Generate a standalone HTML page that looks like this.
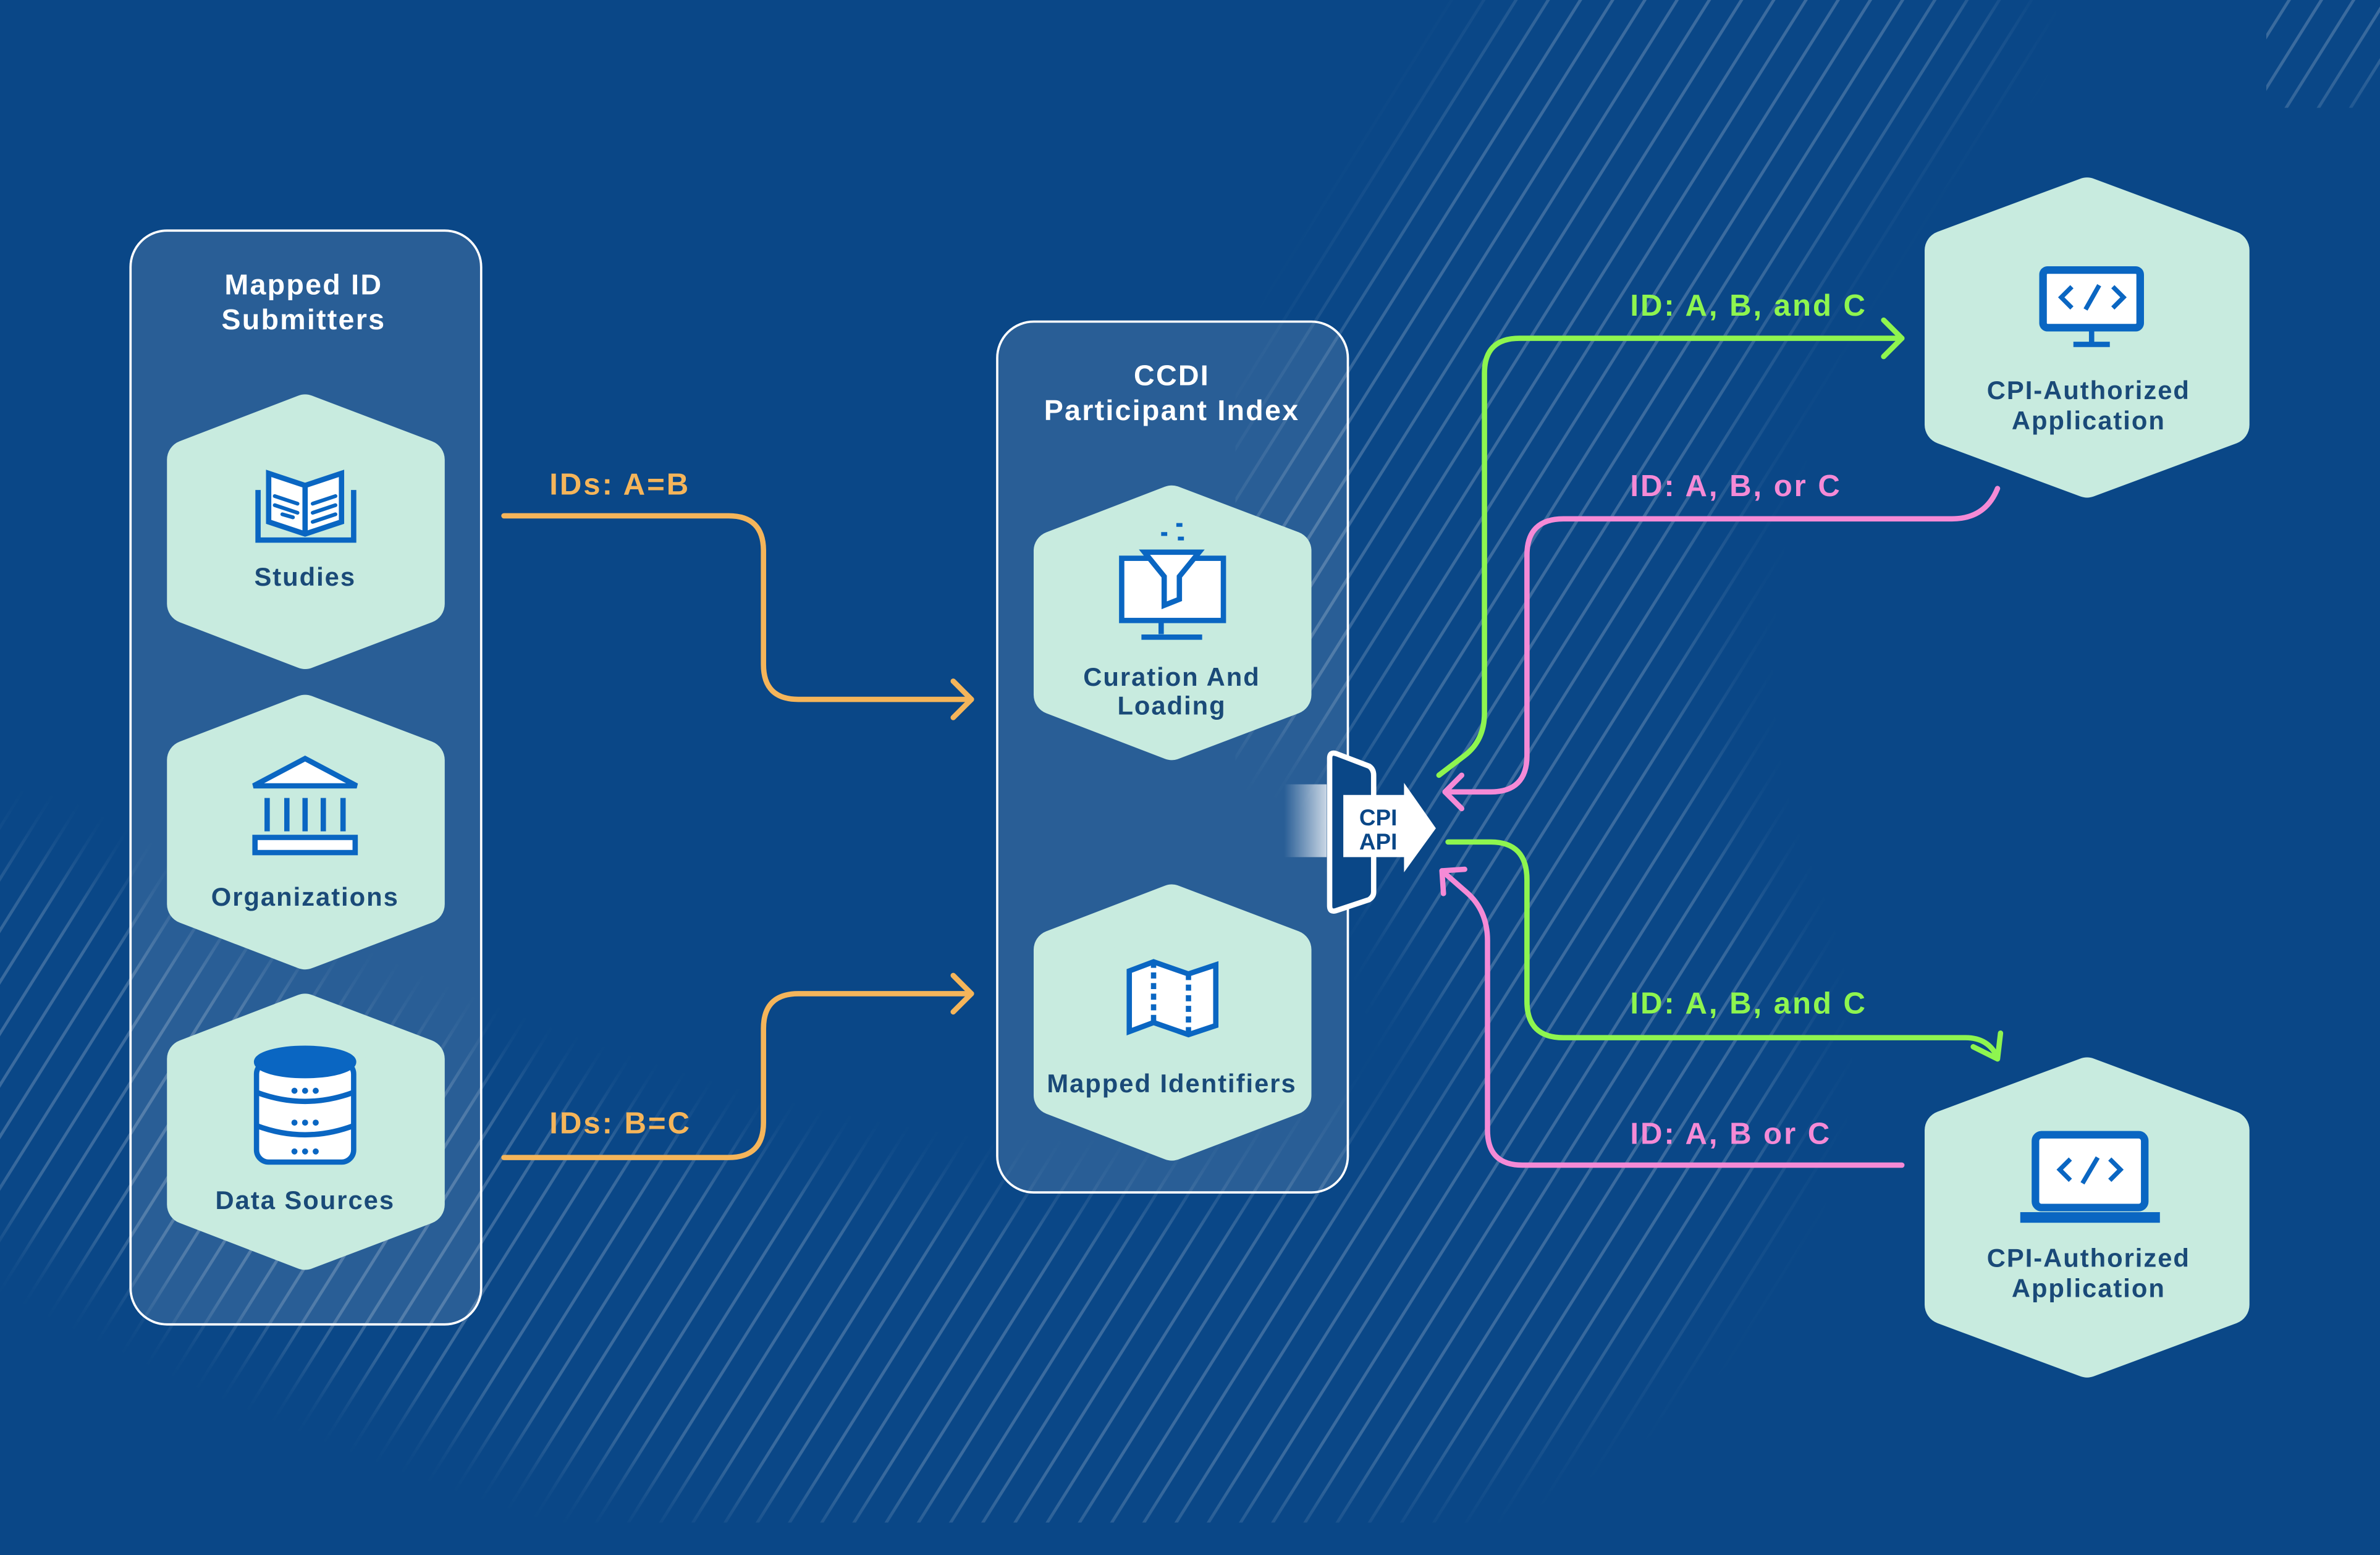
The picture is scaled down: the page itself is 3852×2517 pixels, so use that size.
<!DOCTYPE html>
<html><head><meta charset="utf-8"><style>
html,body{margin:0;padding:0;background:#0a4787;}
svg{display:block;width:3852px;height:2517px;}
text{font-family:"Liberation Sans",sans-serif;font-weight:bold;}
</style></head><body>
<svg viewBox="0 0 1568 1025" preserveAspectRatio="none" xmlns="http://www.w3.org/2000/svg">
<defs>
<pattern id="stripes" width="18" height="18" patternUnits="userSpaceOnUse" patternTransform="rotate(32)">
<rect x="0" y="0" width="2" height="18" fill="#ffffff" fill-opacity="0.2"/>
</pattern>
<filter id="blur"><feGaussianBlur stdDeviation="25"/></filter>
<mask id="band">
<rect width="1568" height="1025" fill="black"/>
<path d="M1250 -60 C1020 150 960 450 1060 650 C1110 800 900 940 600 900 C350 860 150 760 -50 650" stroke="white" stroke-width="220" fill="none" filter="url(#blur)"/>
<path d="M1100 -40 C1000 100 900 250 840 480" stroke="white" stroke-width="120" fill="none" filter="url(#blur)"/>
<path d="M1500 -50 L1568 60" stroke="white" stroke-width="200" fill="none" filter="url(#blur)"/>
</mask>
<linearGradient id="glow" x1="0" x2="1" y1="0" y2="0">
<stop offset="0" stop-color="#ffffff" stop-opacity="0"/>
<stop offset="1" stop-color="#ffffff" stop-opacity="0.75"/>
</linearGradient>
</defs>
<rect width="1568" height="1025" fill="#0a4787"/>
<rect width="1568" height="1025" fill="url(#stripes)" mask="url(#band)"/>

<rect x="86" y="152" width="231" height="721" rx="24" fill="#ffffff" fill-opacity="0.13" stroke="#ffffff" stroke-width="1.5"/>
<rect x="657" y="212" width="231" height="574" rx="24" fill="#ffffff" fill-opacity="0.13" stroke="#ffffff" stroke-width="1.5"/>

<g fill="#fff" font-size="19" text-anchor="middle" letter-spacing="0.9">
<text x="200" y="194">Mapped ID</text>
<text x="200" y="217">Submitters</text>
<text x="772" y="254">CCDI</text>
<text x="772" y="277">Participant Index</text>
</g>

<g fill="#c8ebdf" stroke="#c8ebdf" stroke-width="26" stroke-linejoin="round">
<polygon points="201,273 280,303 280,398 201,428 123,398 123,303"/>
<polygon points="201,471 280,501 280,596 201,626 123,596 123,501"/>
<polygon points="201,668 280,698 280,794 201,824 123,794 123,698"/>
<polygon points="772,333 851,363 851,458 772,488 694,458 694,363"/>
<polygon points="772,596 851,626 851,722 772,752 694,722 694,626"/>
<polygon points="1375,130 1469,165 1469,280 1375,315 1281,280 1281,165"/>
<polygon points="1375,710 1469,745 1469,860 1375,895 1281,860 1281,745"/>
</g>

<g fill="#1a4a78" font-size="17" text-anchor="middle" letter-spacing="0.8">
<text x="201" y="386">Studies</text>
<text x="201" y="597">Organizations</text>
<text x="201" y="797">Data Sources</text>
<text x="772" y="452">Curation And</text>
<text x="772" y="471">Loading</text>
<text x="772" y="720">Mapped Identifiers</text>
<text x="1376" y="263">CPI-Authorized</text>
<text x="1376" y="283">Application</text>
<text x="1376" y="835">CPI-Authorized</text>
<text x="1376" y="855">Application</text>
</g>

<g stroke="#0a66c2" stroke-width="3.5" fill="none">
<path d="M170 323 V356 H233 V323"/>
<path d="M177 312 L201 320 L225 312 V344 L201 352 L177 344 Z" fill="#fff"/>
<path d="M201 320 V352"/>
<path d="M181 327 L196 332 M181 333 L196 338 M186 339 L193 341 M206 332 L221 327 M206 338 L221 333 M206 344 L221 339" stroke-width="2.5" stroke-linecap="round"/>
<path d="M167 518 L201 500 L235 518 Z" fill="#fff"/>
<path d="M176 526 V548 M189 526 V548 M201 526 V548 M213 526 V548 M226 526 V548"/>
<rect x="168" y="552" width="66" height="10" fill="#fff"/>
<rect x="169" y="700" width="64" height="66" rx="8" fill="#fff"/>
<ellipse cx="201" cy="700" rx="32" ry="9" fill="#0a66c2"/>
<path d="M169 720 Q201 732 233 720 M169 742 Q201 754 233 742"/>
<rect x="739" y="368" width="67" height="41" fill="#fff"/>
<path d="M765 410 V418 M752 420 H792"/>
<path d="M754 364 H790 L777 380 V395 L767 399 V380 Z" fill="#fff"/>
<path d="M765 352 h4 M775 346 h4 M776 355 h4" stroke-width="2.5"/>
<path d="M744 640 L760 634 L783 642 L801 636 V676 L783 682 L760 674 L744 680 Z" fill="#fff"/>
<path d="M760 634 V674 M783 642 V682" stroke-dasharray="4 3"/>
<rect x="1346" y="178" width="64" height="38" rx="3" fill="#fff" stroke-width="5"/>
<path d="M1378 218 V226 M1366 227 H1390"/>
<path d="M1365 189 L1358 196 L1365 203 M1392 189 L1399 196 L1392 203 M1383 188 L1374 204" stroke-width="3"/>
<rect x="1341" y="748" width="72" height="48" rx="4" fill="#fff" stroke-width="5"/>
<rect x="1331" y="799" width="92" height="7" fill="#0a66c2" stroke="none"/>
<path d="M1364 764 L1357 771 L1364 778 M1390 764 L1397 771 L1390 778 M1382 763 L1372 780" stroke-width="3"/>
</g>
<g fill="#0a66c2"><circle cx="194" cy="719" r="2"/><circle cx="201" cy="719" r="2"/><circle cx="208" cy="719" r="2"/><circle cx="194" cy="740" r="2"/><circle cx="201" cy="740" r="2"/><circle cx="208" cy="740" r="2"/><circle cx="194" cy="759" r="2"/><circle cx="201" cy="759" r="2"/><circle cx="208" cy="759" r="2"/></g>

<g fill="none" stroke-width="3.5" stroke-linecap="round" stroke-linejoin="round">
<g stroke="#f5b55a">
<path d="M332 340 H480 Q503 340 503 363 V438 Q503 461 526 461 H640"/>
<path d="M628 449 L640 461 L628 473"/>
<path d="M332 763 H480 Q503 763 503 740 V678 Q503 655 526 655 H640"/>
<path d="M628 643 L640 655 L628 667"/>
</g>
<g stroke="#8ef54f">
<path d="M948 511 L965 498 Q978 488 978 470 V246 Q978 223 1001 223 H1253"/>
<path d="M1241 211 L1253 223 L1241 235"/>
<path d="M954 555 H982 Q1006 555 1006 580 V660 Q1006 684 1030 684 H1295 Q1310 684 1316 697"/>
<path d="M1300 690 L1316 698 L1318 681"/>
</g>
<g stroke="#f58ad6">
<path d="M1316 322 Q1308 342 1286 342 H1030 Q1006 342 1006 366 V498 Q1006 522 982 522 H952"/>
<path d="M963 511 L952 522 L963 533"/>
<path d="M1253 768 H1003 Q980 768 980 745 V620 Q980 600 966 588 L950 574"/>
<path d="M965 573 L950 574 L951 589"/>
</g>
</g>

<g font-size="20" letter-spacing="1.2">
<text x="362" y="326" fill="#f5b55a">IDs: A=B</text>
<text x="362" y="747" fill="#f5b55a">IDs: B=C</text>
<text x="1074" y="208" fill="#8ef54f">ID: A, B, and C</text>
<text x="1074" y="327" fill="#f58ad6">ID: A, B, or C</text>
<text x="1074" y="668" fill="#8ef54f">ID: A, B, and C</text>
<text x="1074" y="754" fill="#f58ad6">ID: A, B or C</text>
</g>

<rect x="846" y="517" width="28" height="48" fill="url(#glow)"/>
<path d="M876 500 Q876 495 881 497 L902 505 Q905 507 905 511 V588 Q905 591 902 593 L881 600 Q876 602 876 597 Z" fill="#0a4787" stroke="#fff" stroke-width="3.5"/>
<path d="M885 524 H925 V516 L946 546 L925 575 V565 H885 Z" fill="#fff"/>
<text x="908" y="544" fill="#0a4787" font-size="15" text-anchor="middle">CPI</text>
<text x="908" y="560" fill="#0a4787" font-size="15" text-anchor="middle">API</text>
</svg>
</body></html>
